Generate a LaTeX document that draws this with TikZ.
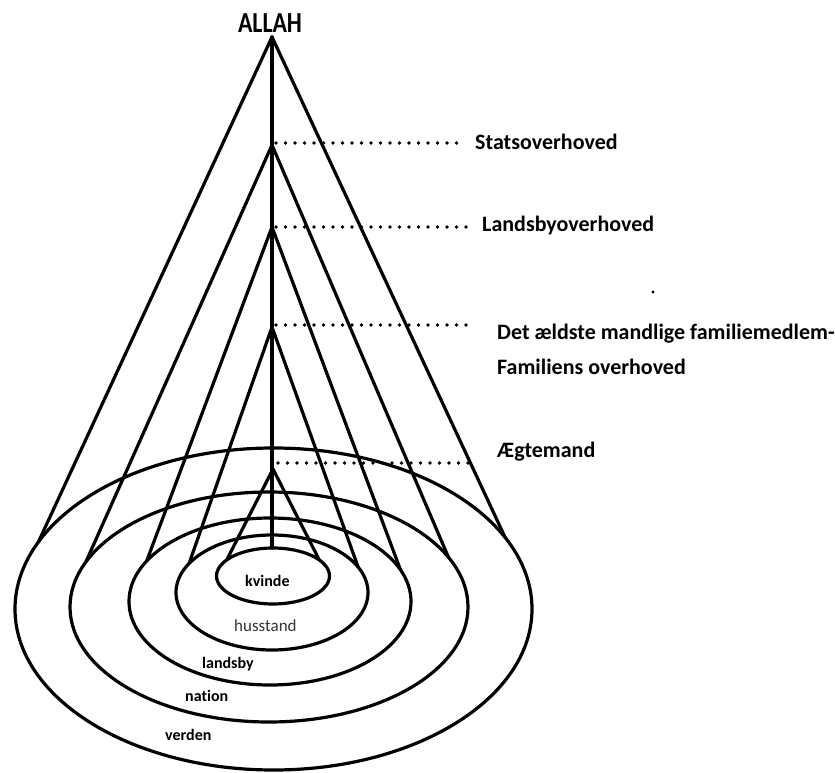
\documentclass[tikz,border=0pt]{standalone}
\usepackage{fontspec}
\setmainfont{Carlito}
\newfontfamily\carl[Ligatures=NoCommon]{Carlito}
\usetikzlibrary{calc}
\begin{document}
\begin{tikzpicture}[x=1pt,y=1pt,
  thick line/.style={line width=3.2pt, line cap=round, line join=round},
  dotline/.style={line width=3.8pt, line cap=round, dash pattern=on 0pt off 9.5pt},
  biglab/.style={anchor=base west, inner sep=0pt, font=\carl\bfseries\fontsize{22}{26}\selectfont},
  ringlab/.style={anchor=base west, inner sep=0pt, font=\carl\bfseries\fontsize{16}{18}\selectfont},
  ]
\useasboundingbox (0,0) rectangle (835,772);
% centres of the rings
\coordinate (V) at (273.5,163);
\coordinate (N) at (269,165);
\coordinate (L) at (270,170.5);
\coordinate (H) at (272,179.5);
\coordinate (K) at (273,196);
% apexes
\coordinate (A0) at (272,735);
\coordinate (A1) at (272,627);
\coordinate (A2) at (272,545);
\coordinate (A3) at (272,445);
\coordinate (A4) at (273,303);
\coordinate (Ktop) at (272,224);
% rings
\draw[thick line] (V) ellipse [x radius=258.5, y radius=161];
\draw[thick line] (N) ellipse [x radius=199, y radius=115];
\draw[thick line] (L) ellipse [x radius=141, y radius=83.5];
\draw[thick line] (H) ellipse [x radius=96, y radius=57.5];
\draw[thick line] (K) ellipse [x radius=56.5, y radius=28];
% cones
\draw[thick line] ($(V)+(155.5:258.5 and 161)$) -- (A0) -- ($(V)+(26.3:258.5 and 161)$);
\draw[thick line] ($(N)+(157:199 and 115)$) -- (A1) -- ($(N)+(25.6:199 and 115)$);
\draw[thick line] ($(L)+(151:141 and 83.5)$) -- (A2) -- ($(L)+(22.2:141 and 83.5)$);
\draw[thick line] ($(H)+(149.8:96 and 57.5)$) -- (A3) -- ($(H)+(26.2:96 and 57.5)$);
\draw[thick line] ($(K)+(145:56.5 and 28)$) -- (A4) -- ($(K)+(35:56.5 and 28)$);
\draw[thick line] (A0) -- (Ktop);
% dotted leaders
\coordinate (E1) at (457,629);
\coordinate (E2) at (468,545);
\coordinate (E3) at (470,447);
\coordinate (E4) at (470,309);
\draw[dotline] (276,629) -- (E1);
\draw[dotline] (276,545) -- (E2);
\draw[dotline] (276,447) -- (E3);
\draw[dotline] (278,309) -- (E4);
% labels
\node[inner sep=0pt, anchor=base, font=\carl\bfseries\fontsize{29}{30}\selectfont] (allah) at (270,739) {\scalebox{0.82}[1]{ALLAH}};
\node[biglab] (stats) at (475,622) {Statsoverhoved};
\node[biglab] (lands) at (482,540) {Landsbyoverhoved};
\node[biglab] (det) at (497,432) {Det ældste mandlige familiemedlem-};
\node[biglab] (fam) at (497,397) {Familiens overhoved};
\node[biglab] (aegt) at (497,315) {Ægtemand};
\node[ringlab] (kv) at (245,186) {kvinde};
\node[anchor=base west, inner sep=0pt, font=\carl\fontsize{17}{20}\selectfont, text=black!80] (hus) at (234,141) {husstand};
\node[ringlab] (lby) at (202,104) {landsby};
\node[ringlab] (nat) at (185,71) {nation};
\node[ringlab] (ver) at (165,32) {verden};
\fill (653,480) circle (1.6);
\end{tikzpicture}
\end{document}
